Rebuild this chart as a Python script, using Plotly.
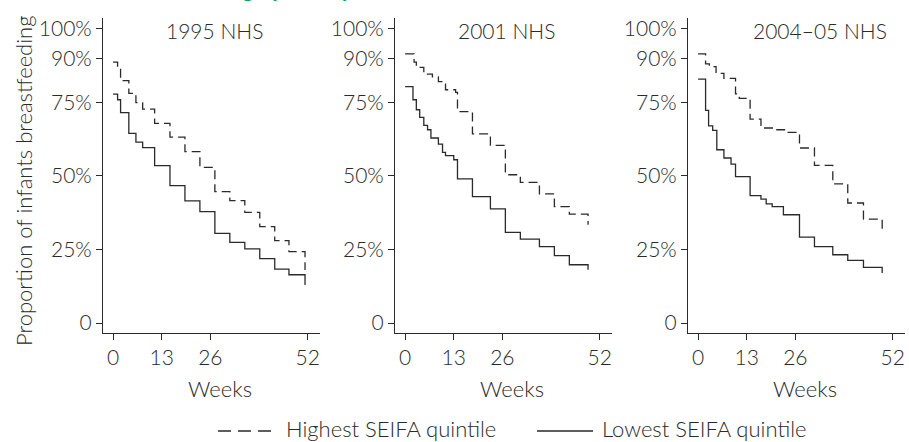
import plotly.graph_objects as go

# ---- data ----
surveys = ["1995 NHS", "2001 NHS", "2004–05 NHS"]
tick_weeks = [0, 13, 26, 52]
y_ticks = [0, 25, 50, 75, 90, 100]
y_ticktext = ["0", "25%", "50%", "75%", "90%", "100%"]
legend_names = ["Highest SEIFA quintile", "Lowest SEIFA quintile"]

weeks_hi_95 = [0, 1.2, 2.0, 4.2, 6.1, 7.9, 11.1, 15.2, 19.2, 23.2, 27.2, 31.2, 35.2, 39.2, 43.2, 47.0, 51.3]
hi_95 = [88.7, 86.6, 82.4, 78.1, 74.9, 72.7, 67.9, 63.2, 58.3, 52.9, 44.7, 41.6, 37.6, 32.8, 28.0, 24.3, 18.0]
weeks_lo_95 = [0, 1.2, 2.0, 4.2, 6.1, 7.9, 11.1, 15.2, 19.2, 23.2, 27.2, 31.2, 35.2, 39.2, 43.2, 47.0, 51.3]
lo_95 = [77.8, 75.9, 71.5, 64.5, 61.5, 59.6, 53.5, 46.7, 41.5, 37.9, 30.5, 27.4, 25.2, 21.9, 18.3, 16.4, 12.9]

weeks_hi_01 = [0, 2.4, 3.0, 5.0, 7.3, 8.9, 10.8, 13.5, 14.0, 18.0, 22.8, 26.8, 30.8, 35.9, 39.9, 43.9, 48.9]
hi_01 = [91.5, 88.7, 86.9, 84.6, 83.7, 82.1, 79.3, 78.4, 71.9, 64.3, 60.4, 50.4, 47.8, 43.9, 39.6, 37.0, 33.4]
weeks_lo_01 = [0, 2.1, 3.0, 3.9, 5.0, 6.0, 6.9, 8.9, 10.0, 10.8, 13.0, 14.0, 18.0, 22.8, 26.8, 30.8, 35.9, 39.9, 43.9, 48.9]
lo_01 = [80.4, 75.9, 72.5, 69.9, 67.2, 65.7, 62.9, 60.8, 58.0, 56.9, 55.5, 49.0, 43.0, 38.8, 30.8, 28.5, 26.0, 22.9, 19.8, 18.1]

weeks_hi_05 = [0, 2.0, 3.0, 4.8, 6.9, 10.0, 11.0, 13.9, 16.8, 20.8, 23.1, 27.1, 31.1, 36.0, 40.0, 44.2, 49.2]
hi_05 = [91.5, 88.1, 87.2, 84.9, 83.2, 77.9, 76.4, 69.3, 66.3, 65.7, 64.8, 59.5, 53.6, 47.3, 40.8, 35.3, 31.9]
weeks_lo_05 = [0, 2.0, 2.8, 3.9, 5.0, 6.9, 8.8, 10.0, 13.9, 16.8, 18.2, 19.8, 22.8, 27.1, 31.1, 36.0, 40.0, 44.2, 49.2]
lo_05 = [82.9, 72.3, 67.0, 65.5, 58.9, 56.1, 54.0, 49.8, 43.3, 42.1, 40.5, 39.6, 36.8, 29.2, 26.0, 23.2, 21.3, 18.9, 17.0]

series = [
    (weeks_hi_95, hi_95, weeks_lo_95, lo_95),
    (weeks_hi_01, hi_01, weeks_lo_01, lo_01),
    (weeks_hi_05, hi_05, weeks_lo_05, lo_05),
]
title_pos = [27, 27, 32.6]

W, H = 909, 442
FONT = "Lato"
WT = 300
INK = "#2a2a2a"
DASH = "9px,5px"

def f(size, color=INK, weight=WT):
    return dict(size=size, family=FONT, color=color, weight=weight)

fig = go.Figure()
xdoms = [(103, 320), (395, 612), (688, 905)]
ydom = (1 - 333 / H, 1 - 18 / H)

for i, (wh, vh, wl, vl) in enumerate(series):
    xa = "x" if i == 0 else f"x{i+1}"
    ya = "y" if i == 0 else f"y{i+1}"
    fig.add_trace(go.Scatter(x=wh, y=vh, mode="lines", line=dict(shape="hv", color=INK, width=1.3, dash=DASH),
                             name=legend_names[0], showlegend=False, xaxis=xa, yaxis=ya, hoverinfo="skip"))
    fig.add_trace(go.Scatter(x=wl, y=vl, mode="lines", line=dict(shape="hv", color=INK, width=1.3),
                             name=legend_names[1], showlegend=False, xaxis=xa, yaxis=ya, hoverinfo="skip"))

layout = dict(
    width=W, height=H, margin=dict(l=0, r=0, t=0, b=0, autoexpand=False),
    paper_bgcolor="white", plot_bgcolor="white",
    font=f(18),
    showlegend=False,
)
for i in range(3):
    sx = "" if i == 0 else str(i + 1)
    x0, x1 = xdoms[i]
    layout[f"xaxis{sx}"] = dict(
        domain=[x0 / W, x1 / W], range=[-2.7, 55.3], anchor=f"y{sx}",
        tickvals=tick_weeks, ticks="outside", ticklen=6, tickcolor=INK, tickwidth=1,
        showline=True, linecolor=INK, linewidth=1.2, showgrid=False, zeroline=False,
        tickfont=f(21), fixedrange=True,
    )
    layout[f"yaxis{sx}"] = dict(
        domain=list(ydom), range=[-3.4, 103.7], anchor=f"x{sx}",
        tickvals=y_ticks, ticktext=y_ticktext, ticks="outside", ticklen=6, tickcolor=INK, tickwidth=1,
        showline=True, linecolor=INK, linewidth=1.2, showgrid=False, zeroline=False,
        tickfont=f(21), fixedrange=True,
    )
fig.update_layout(**layout)

ann = []
for i in range(3):
    sx = "" if i == 0 else str(i + 1)
    ann.append(dict(text=surveys[i], x=title_pos[i], xref=f"x{sx}", y=1 - 31 / H, yref="paper",
                    showarrow=False, font=f(21), xanchor="center", yanchor="middle"))
    ann.append(dict(text="Weeks", x=28.5, xref=f"x{sx}", y=1 - 388 / H, yref="paper",
                    showarrow=False, font=f(22), xanchor="center", yanchor="middle"))
ann.append(dict(text="Proportion of infants breastfeeding", x=23 / W, xref="paper", y=1 - 181 / H, yref="paper",
                textangle=-90, showarrow=False, font=f(22), xanchor="center", yanchor="middle"))
ann.append(dict(text="<b>Duration of breastfeeding by survey, 1995, 2001 and 2004–05 NHS</b>",
                x=0.0, xref="paper", y=1 - 4.5 / H, yref="paper", xanchor="left", yanchor="bottom",
                showarrow=False, font=f(22, "#00a651", 700)))

# legend (key) drawn as shapes + text
legend_y = 1 - 431 / H
ann.append(dict(text=legend_names[0], x=284 / W, xref="paper", y=1 - 428 / H, yref="paper",
                xanchor="left", yanchor="middle", showarrow=False, font=f(22)))
ann.append(dict(text=legend_names[1], x=600 / W, xref="paper", y=1 - 428 / H, yref="paper",
                xanchor="left", yanchor="middle", showarrow=False, font=f(22)))
shapes = [
    dict(type="line", xref="paper", yref="paper", x0=218 / W, x1=272 / W, y0=legend_y, y1=legend_y,
         line=dict(color=INK, width=1.3, dash="13px,7px")),
    dict(type="line", xref="paper", yref="paper", x0=537 / W, x1=593 / W, y0=legend_y, y1=legend_y,
         line=dict(color=INK, width=1.3)),
]
fig.update_layout(annotations=ann, shapes=shapes)

fig.write_html("out.html", config={"displayModeBar": False},
               post_script="document.body.style.margin='0';")
